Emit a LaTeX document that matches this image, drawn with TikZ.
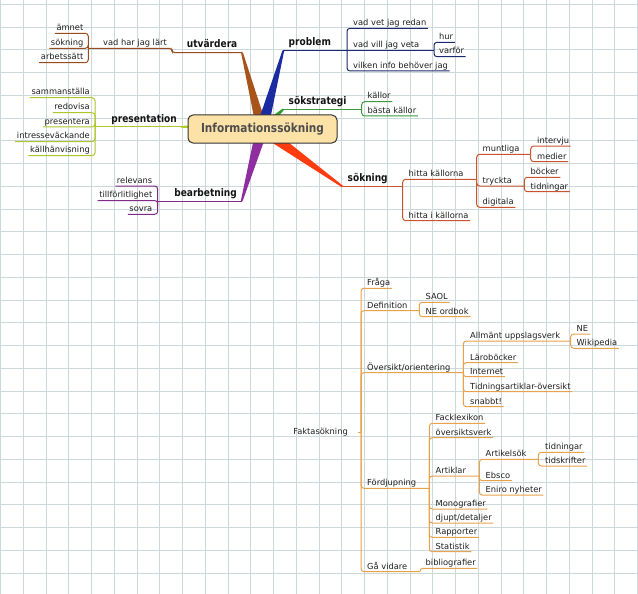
\documentclass[tikz,border=0pt]{standalone}
\usepackage{fontspec}
\setmainfont{DejaVu Sans}
\usepackage{graphicx}
\usetikzlibrary{calc}
\definecolor{gridc}{HTML}{CDD8DB}
\definecolor{brownW}{HTML}{A8531A}
\definecolor{brownL}{HTML}{9A4A1E}
\definecolor{blueW}{HTML}{1B2BA0}
\definecolor{blueL}{HTML}{1D2B6E}
\definecolor{greenW}{HTML}{2F9E2F}
\definecolor{greenL}{HTML}{3C9A3C}
\definecolor{redW}{HTML}{FF3C10}
\definecolor{redL}{HTML}{C9542E}
\definecolor{purpW}{HTML}{8E2EA0}
\definecolor{purpL}{HTML}{7F2C86}
\definecolor{ylgW}{HTML}{B4CC1E}
\definecolor{ylgL}{HTML}{AFC62A}
\definecolor{orangeL}{HTML}{E8A24C}
\definecolor{centerfill}{HTML}{FDE2A8}
\definecolor{centertext}{HTML}{4D4D4D}
\newcommand\bt[1]{\scalebox{0.86}[1]{#1}}
\newcommand\wedgeto[3]{\fill[#1] ($(C)!#3!90:(#2)$) -- ($(#2)!0.9pt!-90:(C)$) -- ($(#2)!0.9pt!90:(C)$) -- ($(C)!#3!-90:(#2)$) -- cycle;}
\begin{document}
\begin{tikzpicture}[x=1pt,y=-1pt,
  ch/.style={font=\fontsize{8.3}{9}\selectfont, text=black!88, inner xsep=1.5pt, inner ysep=0pt, text height=6.3pt, text depth=2.5pt},
  rt/.style={ch, anchor=south west},
  lt/.style={ch, anchor=south east},
  ttl/.style={font=\fontsize{10.5}{12}\selectfont\bfseries, text=black!92, inner xsep=0pt, inner ysep=0pt, text height=8pt, text depth=4.5pt},
  cn/.style={line width=1pt, rounded corners=3pt},
]
\useasboundingbox (0,0) rectangle (638,594);
\fill[white] (0,0) rectangle (638,594);
\foreach \i in {0,...,28} \draw[gridc, line width=0.85pt] (0.5+\i*22.75,0) -- (0.5+\i*22.75,594);
\foreach \j in {0,...,25} \draw[gridc, line width=0.85pt] (0,4.2+\j*22.75) -- (638,4.2+\j*22.75);

% wedges
\coordinate (C) at (262,129);
\coordinate (Tu) at (242,52.7);
\coordinate (Tp) at (283.3,50.7);
\coordinate (Ts) at (283.3,109.3);
\coordinate (Tk) at (342.7,186.7);
\coordinate (Tb) at (241.7,201);
\coordinate (Tr) at (181,126.7);
\wedgeto{brownW}{Tu}{5.5pt}
\wedgeto{blueW}{Tp}{6pt}
\wedgeto{greenW}{Ts}{4.5pt}
\wedgeto{redW}{Tk}{6pt}
\wedgeto{purpW}{Tb}{6pt}
\wedgeto{ylgW}{Tr}{4.5pt}

\node[draw=black!80, line width=1pt, fill=centerfill, rounded corners=5pt, minimum width=149pt, minimum height=28pt, inner sep=0pt] (root) at (262.5,129) {\scalebox{0.85}[1]{\fontsize{12.4}{14}\selectfont\bfseries\color{centertext}Informationssökning}};

% titles
\node[ttl, anchor=south east] (utv) at (237.5,52.7) {\bt{utvärdera}};
\node[ttl, anchor=south west] (prob) at (288.5,50.7) {\bt{problem}};
\node[ttl, anchor=south west] (sstr) at (288.5,109.3) {\bt{sökstrategi}};
\node[ttl, anchor=south west] (sokn) at (347.5,186.7) {\bt{sökning}};
\node[ttl, anchor=south east] (pres) at (177,126.7) {\bt{presentation}};
\node[ttl, anchor=south east] (bear) at (237,201) {\bt{bearbetning}};

% utvärdera
\coordinate (bU0) at (172,52.7);
\coordinate (bU1) at (88.3,48.3);
\node[lt] (vhjl) at (168.5,48.3) {vad har jag lärt};
\node[lt] (amnet) at (85,33.3) {ämnet};
\node[lt] (sokn2) at (85,48.3) {sökning};
\node[lt] (arb) at (85,62.7) {arbetssätt};
\draw[cn,brownL] (Tu) -- (bU0) |- (bU1);
\foreach \n in {amnet,sokn2,arb} \draw[cn,brownL] (bU1) |- (\n.south west);

% problem
\coordinate (bP) at (347,50.7);
\coordinate (bP2) at (434,50.7);
\node[rt] (vvjr) at (351.5,28.3) {vad vet jag redan};
\node[rt] (vvjv) at (351.5,50.7) {vad vill jag veta};
\node[rt] (vibj) at (351.5,71) {vilken info behöver jag};
\node[rt] (hur) at (437.5,42.3) {hur};
\node[rt] (varf) at (437.5,56.7) {varför};
\draw[cn,blueL] (Tp) -- (bP);
\draw[cn,blueL] (bP) |- (vvjr.south east);
\draw[cn,blueL] (bP) -- (bP2);
\draw[cn,blueL] (bP) |- (vibj.south east);
\draw[cn,blueL] (bP2) |- (hur.south east);
\draw[cn,blueL] (bP2) |- (varf.south east);

% sökstrategi
\coordinate (bS) at (361.7,109.3);
\node[rt] (kall) at (366,101.7) {källor};
\node[rt] (bk) at (366,116) {bästa källor};
\draw[cn,greenL] (Ts) -- (bS);
\draw[cn,greenL] (bS) |- (kall.south east);
\draw[cn,greenL] (bS) |- (bk.south east);

% sökning
\coordinate (bK) at (402.7,186.7);
\coordinate (bK2) at (476.7,179.3);
\coordinate (bK3) at (530.7,154.3);
\coordinate (bK4) at (524.3,186);
\node[rt] (hk) at (407,179.3) {hitta källorna};
\node[rt] (hik) at (407,220.7) {hitta i källorna};
\node[rt] (munt) at (481,154.3) {muntliga};
\node[rt] (tryc) at (481,186) {tryckta};
\node[rt] (digi) at (481,207.3) {digitala};
\node[rt] (intv) at (535.5,146) {intervju};
\node[rt] (medi) at (535.5,161.7) {medier};
\node[rt] (boc) at (529,177.3) {böcker};
\node[rt] (tidn) at (529,191.7) {tidningar};
\draw[cn,redL] (Tk) -- (bK);
\draw[cn,redL] (bK) |- (bK2);
\draw[cn,redL] (bK) |- (hik.south east);
\draw[cn,redL] (bK2) |- (bK3);
\draw[cn,redL] (bK2) |- (bK4);
\draw[cn,redL] (bK2) |- (digi.south east);
\draw[cn,redL] (bK3) |- (intv.south east);
\draw[cn,redL] (bK3) |- (medi.south east);
\draw[cn,redL] (bK4) |- (boc.south east);
\draw[cn,redL] (bK4) |- (tidn.south east);

% presentation
\coordinate (bPr) at (95,126.7);
\node[lt] (samm) at (91.5,97.7) {sammanställa};
\node[lt] (redo) at (91.5,112.7) {redovisa};
\node[lt] (prese) at (91.5,127) {presentera};
\node[lt] (intr) at (91.5,141.7) {intresseväckande};
\node[lt] (kallh) at (91.5,155.7) {källhänvisning};
\draw[cn,ylgL] (Tr) -- (bPr);
\foreach \n in {samm,redo,prese,intr,kallh} \draw[cn,ylgL] (bPr) |- (\n.south west);

% bearbetning
\coordinate (bB) at (157.7,201);
\node[lt] (rele) at (154,186) {relevans};
\node[lt] (tillf) at (154,200.5) {tillförlitlighet};
\node[lt] (sovr) at (154,214.3) {sovra};
\draw[cn,purpL] (Tb) -- (bB);
\foreach \n in {rele,tillf,sovr} \draw[cn,purpL] (bB) |- (\n.south west);

% Faktasökning
\node[ch, anchor=east, inner xsep=0pt] (fakta) at (348,432.7) {Faktasökning};
\coordinate (bF) at (361,432.7);
\coordinate (bD) at (419.3,310.7);
\coordinate (bO) at (463.3,372.7);
\coordinate (bA) at (570.7,341);
\coordinate (bFd) at (429.3,488.3);
\coordinate (bAr) at (479.3,476);
\coordinate (bAs) at (538.3,459.3);
\coordinate (bG) at (420,571.7);
\node[rt] (fraga) at (365.5,288.3) {Fråga};
\node[rt] (defi) at (365.5,310.7) {Definition};
\node[rt] (over) at (365.5,372.7) {Översikt/orientering};
\node[rt] (ford) at (365.5,488.3) {Fördjupning};
\node[rt] (gav) at (365.5,571.7) {Gå vidare};
\node[rt] (saol) at (424,302.3) {SAOL};
\node[rt] (neord) at (424,316.7) {NE ordbok};
\node[rt] (allm) at (468.5,341) {Allmänt uppslagsverk};
\node[rt] (laro) at (468.5,362.7) {Läroböcker};
\node[rt] (inet) at (468.5,376.7) {Internet};
\node[rt] (tids) at (468.5,391.7) {Tidningsartiklar-översikt};
\node[rt] (snab) at (468.5,406.7) {snabbt!};
\node[rt] (ne) at (575,334) {NE};
\node[rt] (wiki) at (575,348.3) {Wikipedia};
\node[rt] (fack) at (434,423.3) {Facklexikon};
\node[rt] (oversv) at (434,437.7) {översiktsverk};
\node[rt] (artk) at (434,476) {Artiklar};
\node[rt] (mono) at (434,509) {Monografier};
\node[rt] (djup) at (434,523) {djupt/detaljer};
\node[rt] (rapp) at (434,537.3) {Rapporter};
\node[rt] (stat) at (434,551.7) {Statistik};
\node[rt] (artsok) at (484,459.3) {Artikelsök};
\node[rt] (ebsco) at (484,480.7) {Ebsco};
\node[rt] (eniro) at (484,495) {Eniro nyheter};
\node[rt] (tidn2) at (543.5,452.3) {tidningar};
\node[rt] (tidsk) at (543.5,466) {tidskrifter};
\node[rt] (bib) at (424,568.3) {bibliografier};
\draw[cn,orangeL] ([xshift=10pt]fakta.east) -- (bF);
\draw[cn,orangeL] (bF) |- (fraga.south east);
\draw[cn,orangeL] (bF) |- (bD);
\draw[cn,orangeL] (bF) |- (bO);
\draw[cn,orangeL] (bF) |- (bFd);
\draw[cn,orangeL] (bF) |- (bG);
\draw[cn,orangeL] (bD) |- (saol.south east);
\draw[cn,orangeL] (bD) |- (neord.south east);
\draw[cn,orangeL] (bO) |- (bA);
\foreach \n in {laro,inet,tids,snab} \draw[cn,orangeL] (bO) |- (\n.south east);
\draw[cn,orangeL] (bA) |- (ne.south east);
\draw[cn,orangeL] (bA) |- (wiki.south east);
\foreach \n in {fack,oversv,mono,djup,rapp,stat} \draw[cn,orangeL] (bFd) |- (\n.south east);
\draw[cn,orangeL] (bFd) |- (bAr);
\draw[cn,orangeL] (bAr) |- (bAs);
\draw[cn,orangeL] (bAr) |- (ebsco.south east);
\draw[cn,orangeL] (bAr) |- (eniro.south east);
\draw[cn,orangeL] (bAs) |- (tidn2.south east);
\draw[cn,orangeL] (bAs) |- (tidsk.south east);
\draw[cn,orangeL] (bG) |- (bib.south east);
\end{tikzpicture}
\end{document}
